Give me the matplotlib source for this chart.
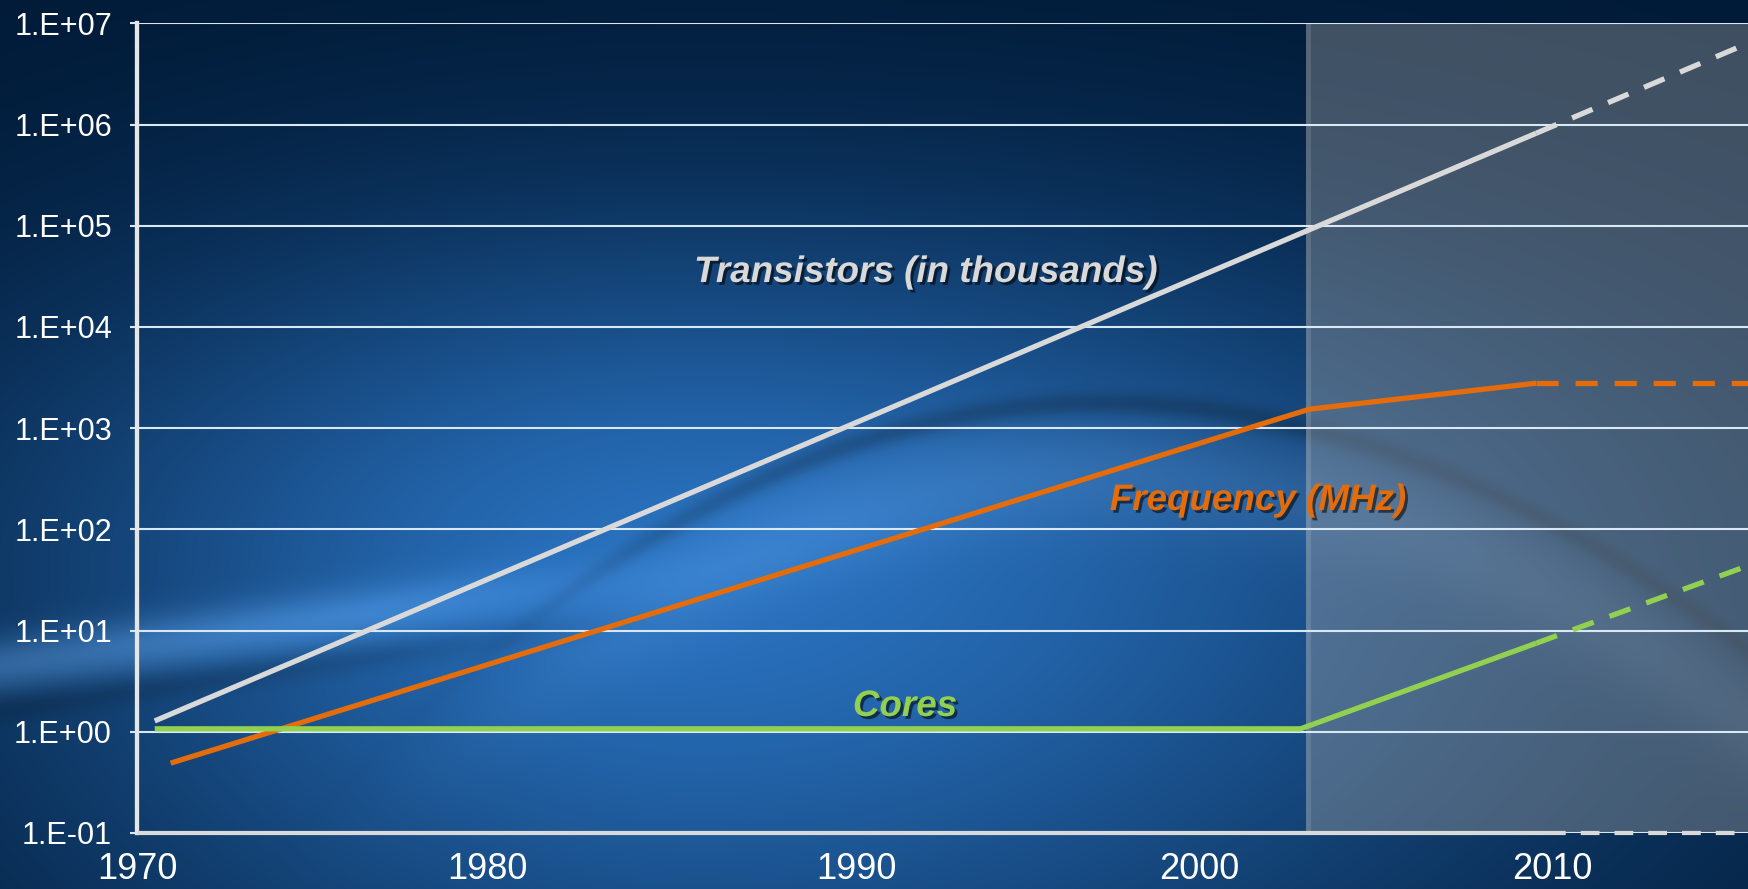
import numpy as np
import matplotlib
matplotlib.use("Agg")
import matplotlib.pyplot as plt
from matplotlib import patheffects as pe
from matplotlib.ticker import NullLocator

# ---------------- data ----------------
transistor_years = [1970, 2009]
transistor_vals = [1.28, 8.2e5]
transistor_proj_years = [2009, 2015]
transistor_proj_vals = [8.2e5, 6.4e6]

freq_years = [1970.45, 2002.6, 2009]
freq_vals = [0.49, 1540, 2780]
freq_proj_years = [2009, 2015]
freq_proj_vals = [2780, 2780]

core_years = [1970, 2002.35, 2009]
core_vals = [1.07, 1.07, 7.5]
core_proj_years = [2009, 2015]
core_proj_vals = [7.5, 44]

ytick_vals = [1e-1, 1e0, 1e1, 1e2, 1e3, 1e4, 1e5, 1e6, 1e7]
ytick_labels = ['1.E-01', '1.E+00', '1.E+01', '1.E+02', '1.E+03',
                '1.E+04', '1.E+05', '1.E+06', '1.E+07']
xtick_labels = ['1970', '1980', '1990', '2000', '2010']
xtick_pos = [1969.5, 1979.4, 1989.8, 1999.5, 2009.45]
shade_start = 2002.5
proj_start = 2009.3

# ---------------- styling ----------------
C_TR = '#d9d9d9'
C_FR = '#e46c0a'
C_CO = '#92d050'
C_GRID = '#d8e8f5'
FONT = ['Liberation Sans', 'DejaVu Sans']

W, H = 1748, 889
fig = plt.figure(figsize=(W / 100, H / 100), dpi=100)

# background gradient (decoration only)
yy, xx = np.mgrid[0:H:2, 0:W:2].astype(float)
sx = np.where(xx < 700, 700.0, 900.0)
sy = np.where(yy < 560, 340.0, 500.0)
w = np.exp(-((xx - 700) / sx) ** 2 - ((yy - 560) / sy) ** 2)
dark = np.array([0.0, 0.10, 0.21])
bright = np.array([0.16, 0.44, 0.74])
img = dark + (bright - dark) * w[..., None]
arc = np.where(xx < 1100, 403 + 250 * ((xx - 1100) / 612) ** 2,
               403 + 250 * ((xx - 1100) / 650) ** 2)
fade = 1 / (1 + np.exp(-(xx - 600) / 80))
d = yy - arc
img = img * (1 - 0.22 * np.exp(-(d / 12) ** 2) * fade)[..., None]
img = img + (0.07 * np.exp(-((d - 70) / 55) ** 2) * fade)[..., None]
ye = 697 - 0.14 * xx
d2 = yy - ye
fadeL = 1 / (1 + np.exp((xx - 500) / 90))
img = img + (np.array([0.14, 0.18, 0.22]) * np.exp(-((d2 + 32) / 28) ** 2)[..., None]
             * fadeL[..., None])
img = img * (1 - 0.15 * np.exp(-((d2 - 12) / 14) ** 2) * fadeL)[..., None]
img = np.clip(img, 0, 1)

bg = fig.add_axes([0, 0, 1, 1], zorder=-10)
bg.imshow(img, extent=[0, W, H, 0], aspect='auto', interpolation='bilinear')
bg.axis('off')

left, right, top, bottom = 137, 1748, 23.3, 833
ax = fig.add_axes([left / W, (H - bottom) / H, (right - left) / W, (bottom - top) / H])
ax.patch.set_alpha(0)
ax.set_yscale('log')
ax.set_ylim(0.1, 1e7)
ax.set_xlim(1969.5, 2014.98)

# shaded projection region
ax.axvspan(shade_start, 2014.98, color='#a6a6a6', alpha=0.38, lw=0, zorder=0.2)
ax.axvspan(shade_start, shade_start + 0.14, color='white', alpha=0.12, lw=0, zorder=0.3)

ax.set_yticks(ytick_vals)
ax.set_yticklabels(ytick_labels)
ax.yaxis.set_minor_locator(NullLocator())
ax.set_axisbelow(True)
ax.yaxis.grid(True, color=C_GRID, lw=1.5)
ax.set_xticks(xtick_pos)
ax.set_xticklabels(xtick_labels)

ax.tick_params(axis='y', direction='out', length=5, width=1.5, color=C_GRID,
               pad=13, labelsize=22, labelcolor='white')
ax.tick_params(axis='x', length=0, pad=14, labelsize=26, labelcolor='white')
for lab in ax.get_xticklabels() + ax.get_yticklabels():
    lab.set_family(FONT)

for s in ['top', 'right', 'bottom']:
    ax.spines[s].set_visible(False)
ax.spines['left'].set_color('#e6e6e6')
ax.spines['left'].set_linewidth(3.1)

# bottom axis: solid then dashed projection
fr = (proj_start - 1969.5) / (2014.98 - 1969.5)
ax.axhline(0.1, xmin=0, xmax=fr, color=C_TR, lw=3, clip_on=False, zorder=4,
           solid_capstyle='butt')
ax.axhline(0.1, xmin=fr, xmax=1, color=C_TR, lw=3, clip_on=False, zorder=4,
           dashes=(4.5, 3.6))

lw = 3.8
dash = (4.2, 3.2)
ax.plot(transistor_years, transistor_vals, color=C_TR, lw=lw, zorder=3,
        solid_capstyle='butt')
ax.plot(transistor_proj_years, transistor_proj_vals, color=C_TR, lw=lw, zorder=3,
        dashes=dash, dash_capstyle='butt')
ax.plot(freq_years, freq_vals, color=C_FR, lw=lw, zorder=3, solid_capstyle='butt')
ax.plot(freq_proj_years, freq_proj_vals, color=C_FR, lw=lw, zorder=3,
        dashes=dash, dash_capstyle='butt')
ax.plot(core_years, core_vals, color=C_CO, lw=lw, zorder=3, solid_capstyle='butt')
ax.plot(core_proj_years, core_proj_vals, color=C_CO, lw=lw, zorder=3,
        dashes=dash, dash_capstyle='butt')

shadow = [pe.withSimplePatchShadow(offset=(2, -2), shadow_rgbFace='black', alpha=0.55)]
def flabel(px, py, txt, col):
    fig.text(px / W, (H - py) / H, txt, color=col, fontsize=26.5, fontweight='bold',
             fontstyle='italic', family=FONT, ha='center', va='baseline',
             path_effects=shadow, zorder=5)

flabel(926, 282, 'Transistors (in thousands)', C_TR)
flabel(1258, 510, 'Frequency (MHz)', C_FR)
flabel(905, 716, 'Cores', C_CO)

fig.savefig('out.png', dpi=100)
